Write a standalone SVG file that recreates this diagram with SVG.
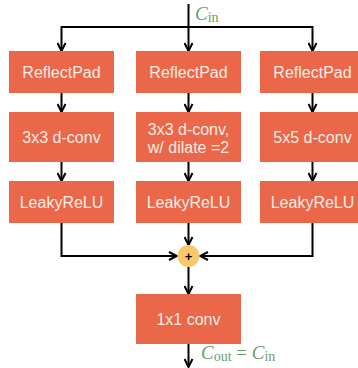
<svg xmlns="http://www.w3.org/2000/svg" width="358" height="368" viewBox="0 0 358 368">
<defs>
<style>
.box{fill:#EA6749;}
.t{font-family:"Liberation Sans",Arial,sans-serif;font-size:16px;fill:#FCEDE6;text-anchor:middle;dominant-baseline:central;}
.c{fill:none;stroke:#000;stroke-width:2;}
.m{font-family:"Liberation Serif","DejaVu Serif",serif;fill:#6B9E6B;font-size:19px;}
</style>
<marker id="ah" viewBox="0 0 10 10" refX="9" refY="5" markerWidth="10" markerHeight="10" markerUnits="userSpaceOnUse" orient="auto">
<path d="M1,1 L9,5 L1,9" fill="none" stroke="#000" stroke-width="2"/>
</marker>
</defs>
<rect width="358" height="368" fill="#fff"/>
<g id="connectors" class="c">
<path d="M188.5,4 V51" marker-end="url(#ah)"/>
<path d="M61.5,27 H312.5" />
<path d="M61.5,26 V51" marker-end="url(#ah)"/>
<path d="M312.5,26 V51" marker-end="url(#ah)"/>
<path d="M61.5,93 V112" marker-end="url(#ah)"/>
<path d="M188.5,93 V112" marker-end="url(#ah)"/>
<path d="M312.5,93 V112" marker-end="url(#ah)"/>
<path d="M61.5,162 V181" marker-end="url(#ah)"/>
<path d="M188.5,162 V181" marker-end="url(#ah)"/>
<path d="M312.5,162 V181" marker-end="url(#ah)"/>
<path d="M61.5,223 V256 H177" marker-end="url(#ah)"/>
<path d="M188.5,223 V245" marker-end="url(#ah)"/>
<path d="M312.5,223 V256 H200" marker-end="url(#ah)"/>
<path d="M188.5,267 V294" marker-end="url(#ah)"/>
<path d="M188.5,344 V367" marker-end="url(#ah)"/>
</g>
<g id="pad1"><rect class="box" x="9" y="51" width="105" height="42"/><text class="t" x="61.5" y="72">ReflectPad</text></g>
<g id="pad2"><rect class="box" x="136" y="51" width="105" height="42"/><text class="t" x="188.5" y="72">ReflectPad</text></g>
<g id="pad3"><rect class="box" x="260" y="51" width="105" height="42"/><text class="t" x="312.5" y="72">ReflectPad</text></g>
<g id="conv1"><rect class="box" x="9" y="112" width="105" height="50"/><text class="t" x="61.5" y="137">3x3 d-conv</text></g>
<g id="conv2"><rect class="box" x="136" y="112" width="105" height="50"/><text class="t" x="188.5" y="129.5">3x3 d-conv,</text><text class="t" x="188.5" y="147.5">w/ dilate =2</text></g>
<g id="conv3"><rect class="box" x="260" y="112" width="105" height="50"/><text class="t" x="312.5" y="137">5x5 d-conv</text></g>
<g id="relu1"><rect class="box" x="9" y="181" width="105" height="42"/><text class="t" x="61.5" y="202">LeakyReLU</text></g>
<g id="relu2"><rect class="box" x="136" y="181" width="105" height="42"/><text class="t" x="188.5" y="202">LeakyReLU</text></g>
<g id="relu3"><rect class="box" x="260" y="181" width="105" height="42"/><text class="t" x="312.5" y="202">LeakyReLU</text></g>
<g id="sum"><circle cx="188.5" cy="256" r="11" fill="#FBC76C"/><text x="188.5" y="256" font-family="Liberation Sans,Arial,sans-serif" font-size="13" font-weight="bold" text-anchor="middle" dominant-baseline="central" fill="#000">+</text></g>
<g id="conv1x1"><rect class="box" x="136" y="294" width="105" height="50"/><text class="t" x="188.5" y="319">1x1 conv</text></g>
<g id="labels">
<text class="m" x="195" y="20"><tspan font-style="italic">C</tspan><tspan font-size="14" dy="2">in</tspan></text>
<text class="m" x="201" y="359"><tspan font-style="italic">C</tspan><tspan font-size="14" dy="2">out</tspan><tspan dy="-2">  =  </tspan><tspan font-style="italic">C</tspan><tspan font-size="14" dy="2">in</tspan></text>
</g>
</svg>
